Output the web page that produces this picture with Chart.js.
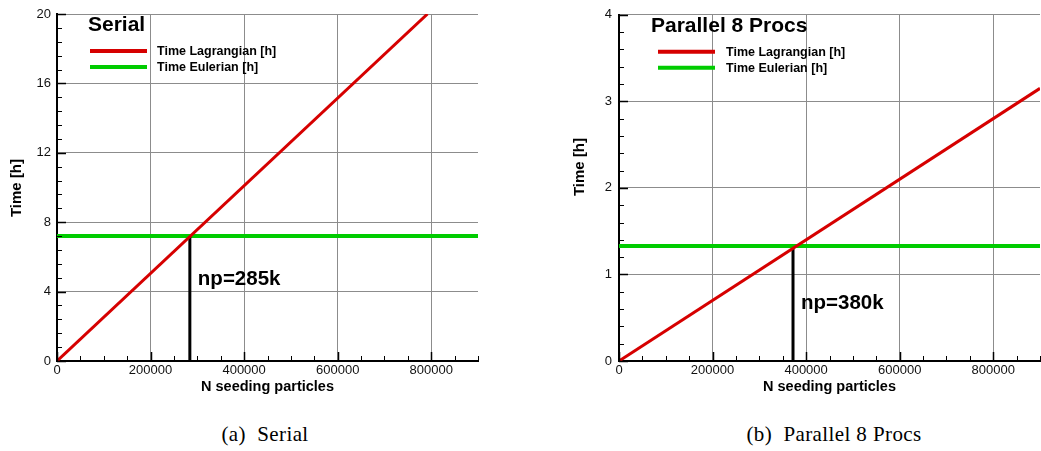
<!DOCTYPE html>
<html>
<head>
<meta charset="utf-8">
<script src="https://cdn.jsdelivr.net/npm/chart.js@4.4.1/dist/chart.umd.min.js"></script>
<style>
  html, body { margin: 0; padding: 0; background: #fff; }
  #wrap { position: relative; width: 1041px; height: 451px; overflow: hidden; }
  .panel { position: absolute; top: 0; }
  .cap { position: absolute; font-family: "Liberation Serif", "Times New Roman", serif; font-size: 21px; letter-spacing: 0.4px; color: #000; white-space: pre; transform: translateX(-50%); top: 422px; }
</style>
</head>
<body>
<div id="wrap">
  <div class="panel" style="left:0px;width:500px;height:400px;"><canvas id="c1" width="500" height="400"></canvas></div>
  <div class="panel" style="left:560px;width:481px;height:400px;"><canvas id="c2" width="481" height="400"></canvas></div>
  <div class="cap" style="left:265px;">(a)  Serial</div>
  <div class="cap" style="left:834px;">(b)  Parallel 8 Procs</div>
</div>
<script>
// ---------- data ----------
const xTickValues = [0, 200000, 400000, 600000, 800000];
const xMax = 900000;

// Serial
const serialLagN = [0, 792000];
const serialLagT = [0, 20];
const serialEulN = [0, 900000];
const serialEulT = [7.2, 7.2];
const serialCrossN = [284000, 284000];
const serialCrossT = [0, 7.2];
const serialYTicks = [0, 4, 8, 12, 16, 20];
const serialLabel = "np=285k";

// Parallel 8 procs
const parLagN = [0, 900000];
const parLagT = [0, 3.15];
const parEulN = [0, 900000];
const parEulT = [1.33, 1.33];
const parCrossN = [372000, 372000];
const parCrossT = [0, 1.30];
const parYTicks = [0, 1, 2, 3, 4];
const parLabel = "np=380k";

const seriesNames = ["Time Lagrangian [h]", "Time Eulerian [h]"];

// ---------- helpers ----------
const pts = (xs, ys) => xs.map((v, i) => ({x: v, y: ys[i]}));
const SANS = "'Liberation Sans', Arial, Helvetica, sans-serif";

const decor = {
  id: 'decor',
  afterDraw(chart, args, o) {
    const {ctx, chartArea: a, scales: {x, y}} = chart;
    ctx.save();
    // ticks (inward), major + minor
    ctx.strokeStyle = '#000';
    const yt = o.yTicks, ystep = yt[1] - yt[0];
    ctx.lineWidth = 1.5;
    yt.forEach(v => {
      const p = Math.round(y.getPixelForValue(v)) + 0.5;
      ctx.beginPath(); ctx.moveTo(a.left, p); ctx.lineTo(a.left + 9, p); ctx.stroke();
    });
    xTickValues.forEach(v => {
      const p = Math.round(x.getPixelForValue(v)) + 0.5;
      ctx.beginPath(); ctx.moveTo(p, a.bottom); ctx.lineTo(p, a.bottom - 9); ctx.stroke();
    });
    ctx.lineWidth = 1;
    for (let i = 0; i < yt.length - 1; i++) {
      for (let k = 1; k < 5; k++) {
        const p = Math.round(y.getPixelForValue(yt[i] + ystep * k / 5)) + 0.5;
        ctx.beginPath(); ctx.moveTo(a.left, p); ctx.lineTo(a.left + 5, p); ctx.stroke();
      }
    }
    const xstep = (xTickValues[1] - xTickValues[0]) / 4;
    for (let v = xstep; v <= xMax; v += xstep) {
      if (Math.abs(v % (xstep * 4)) < 1) continue;
      const p = Math.round(x.getPixelForValue(v)) + 0.5;
      ctx.beginPath(); ctx.moveTo(p, a.bottom); ctx.lineTo(p, a.bottom - 5); ctx.stroke();
    }
    // y title
    ctx.fillStyle = '#000';
    ctx.font = "bold 15px " + SANS;
    ctx.textAlign = 'center'; ctx.textBaseline = 'middle';
    ctx.save();
    ctx.translate(o.yTitleX, o.yTitleY);
    ctx.rotate(-Math.PI / 2);
    ctx.fillText("Time [h]", 0, 0);
    ctx.restore();
    // panel title
    ctx.textAlign = 'left';
    ctx.font = "bold 21px " + SANS;
    ctx.fillText(o.title, a.left + o.titleDx, a.top + 11);
    // legend
    ctx.font = "bold 12.5px " + SANS;
    o.legend.forEach((idx, j) => {
      const ds = chart.data.datasets[idx];
      const ly = a.top + 37 + j * 16;
      ctx.strokeStyle = ds.borderColor; ctx.lineWidth = 4;
      ctx.beginPath(); ctx.moveTo(a.left + o.legDx, ly); ctx.lineTo(a.left + o.legDx + 57, ly); ctx.stroke();
      ctx.fillStyle = '#000';
      ctx.fillText(ds.label, a.left + o.legTextDx, ly + 1);
    });
    // np label next to crossing line
    const cross = chart.data.datasets[o.crossIdx].data;
    ctx.font = "bold 20.5px " + SANS;
    ctx.fillText(o.npLabel, x.getPixelForValue(cross[0].x) + 8,
                 y.getPixelForValue(cross[1].y * o.npFrac));
    ctx.restore();
  }
};

function makeChart(id, cfg) {
  return new Chart(document.getElementById(id), {
    type: 'line',
    data: {
      datasets: [
        {label: seriesNames[1], data: pts(cfg.eulN, cfg.eulT), borderColor: '#00cc00', borderWidth: 4, pointRadius: 0, order: 3},
        {label: 'cross', data: pts(cfg.crossN, cfg.crossT), borderColor: '#000', borderWidth: 3, pointRadius: 0, order: 2},
        {label: seriesNames[0], data: pts(cfg.lagN, cfg.lagT), borderColor: '#d60000', borderWidth: 3, pointRadius: 0, order: 1}
      ]
    },
    options: {
      responsive: false,
      animation: false,
      events: [],
      layout: {padding: {left: 0, top: 14, right: cfg.padRight, bottom: 0}},
      plugins: {
        legend: {display: false},
        tooltip: {enabled: false},
        decor: {
          yTicks: cfg.yTicks, title: cfg.title, titleDx: cfg.titleDx,
          legend: [2, 0], legDx: cfg.legDx, legTextDx: cfg.legTextDx,
          crossIdx: 1, npLabel: cfg.npLabel, npFrac: cfg.npFrac,
          yTitleX: cfg.yTitleX, yTitleY: cfg.yTitleY
        }
      },
      scales: {
        x: {
          type: 'linear', min: 0, max: xMax,
          afterBuildTicks: s => { s.ticks = xTickValues.map(v => ({value: v})); },
          afterFit: s => { s.height = 39; },
          ticks: {callback: v => String(v), font: {family: SANS, size: 13}, color: '#111', padding: 2, maxRotation: 0, autoSkip: false},
          grid: {color: '#8c8c8c', lineWidth: 1, drawTicks: false},
          border: {display: true, color: '#000', width: 2},
          title: {display: true, text: 'N seeding particles', font: {family: SANS, size: 14.5, weight: 'bold'}, color: '#000', padding: {top: 0, bottom: 4}}
        },
        y: {
          type: 'linear', min: 0, max: cfg.yTicks[cfg.yTicks.length - 1],
          afterBuildTicks: s => { s.ticks = cfg.yTicks.map(v => ({value: v})); },
          afterFit: s => { s.width = cfg.yWidth; },
          ticks: {callback: v => String(v), font: {family: SANS, size: 13}, color: '#111', padding: cfg.yPad},
          grid: {color: '#8c8c8c', lineWidth: 1, drawTicks: false},
          border: {display: true, color: '#000', width: 2}
        }
      }
    },
    plugins: [decor]
  });
}

makeChart('c1', {
  lagN: serialLagN, lagT: serialLagT, eulN: serialEulN, eulT: serialEulT,
  crossN: serialCrossN, crossT: serialCrossT, yTicks: serialYTicks,
  title: 'Serial', npLabel: serialLabel, npFrac: 0.657,
  padRight: 22, yWidth: 57, yPad: 6, titleDx: 31, legDx: 33, legTextDx: 100,
  yTitleX: 17, yTitleY: 188
});
makeChart('c2', {
  lagN: parLagN, lagT: parLagT, eulN: parEulN, eulT: parEulT,
  crossN: parCrossN, crossT: parCrossT, yTicks: parYTicks,
  title: 'Parallel 8 Procs', npLabel: parLabel, npFrac: 0.515,
  padRight: 1, yWidth: 59, yPad: 7, titleDx: 32, legDx: 39, legTextDx: 107,
  yTitleX: 20, yTitleY: 167
});
</script>
</body>
</html>
